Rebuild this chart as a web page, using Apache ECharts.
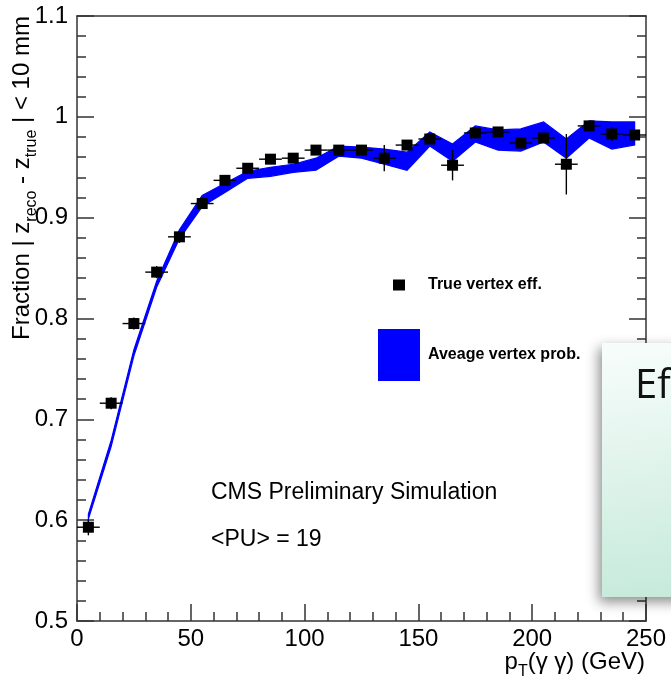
<!DOCTYPE html>
<html>
<head>
<meta charset="utf-8">
<script src="https://cdn.jsdelivr.net/npm/echarts@6/dist/echarts.min.js"></script>
<style>
html,body{margin:0;padding:0;background:#fff;}
#chart{width:671px;height:679px;}
</style>
</head>
<body>
<div id="chart"></div>
<script>
// ---- data ----
const binCenters = [5,15,25,35,45,55,65,75,85,95,105,115,125,135,145,155,165,175,185,195,205,215,225,235,245];
const binHalfWidth = 5;
const effValues = [0.593,0.716,0.795,0.846,0.881,0.914,0.937,0.949,0.958,0.959,0.967,0.967,0.967,0.959,0.972,0.978,0.952,0.984,0.985,0.974,0.979,0.953,0.991,0.983,0.982];
const effErrors = [0.008,0.006,0.006,0.006,0.006,0.005,0.005,0.004,0.004,0.005,0.004,0.004,0.004,0.013,0.005,0.005,0.015,0.004,0.004,0.004,0.004,0.030,0.004,0.007,0.005];
const bandLow  = [0.601,0.673,0.763,0.831,0.879,0.911,0.925,0.939,0.941,0.945,0.947,0.961,0.959,0.953,0.947,0.971,0.956,0.975,0.967,0.966,0.975,0.959,0.979,0.968,0.972];
const bandHigh = [0.606,0.679,0.769,0.837,0.888,0.922,0.934,0.946,0.950,0.953,0.959,0.971,0.970,0.968,0.965,0.985,0.973,0.991,0.987,0.988,0.995,0.978,0.996,0.995,0.995];
const xTicks = [0,50,100,150,200,250];
const yTicks = [0.5,0.6,0.7,0.8,0.9,1.0,1.1];
const seriesNames = ['True vertex eff.', 'Aveage vertex prob.'];

const FONT = "'Liberation Sans', Arial, Helvetica, sans-serif";
const chart = echarts.init(document.getElementById('chart'), null, {renderer:'canvas'});

const effData = binCenters.map((x,i)=>[x, effValues[i]]);
const errData = binCenters.map((x,i)=>[x, effValues[i], effErrors[i]]);
const bandData = binCenters.map((x,i)=>[x, bandLow[i], bandHigh[i]]);

const axisLineStyle = {color:'#333', width:1.5};

function yFmt(v){ return Math.abs(v-1)<1e-9 ? '1' : v.toFixed(1); }

const richSub = {
  n:{fontSize:24, fontFamily:FONT, fill:'#000', color:'#000', lineHeight:24, verticalAlign:'top'},
  s:{fontSize:16, fontFamily:FONT, fill:'#000', color:'#000', lineHeight:30, verticalAlign:'bottom'}
};

const option = {
  animation:false,
  backgroundColor:'#fff',
  grid:{left:77, right:25, top:16, bottom:58, show:false},
  xAxis:[{
    type:'value', min:xTicks[0], max:xTicks[xTicks.length-1], interval:50,
    axisLine:{show:true, onZero:false, lineStyle:axisLineStyle},
    axisTick:{show:true, inside:true, length:17, lineStyle:axisLineStyle},
    minorTick:{show:true, splitNumber:5, length:9, lineStyle:axisLineStyle},
    axisLabel:{fontSize:24, color:'#000', fontFamily:FONT, margin:6},
    splitLine:{show:false}
  },{
    type:'value', position:'top', min:0, max:250,
    axisLine:{show:true, onZero:false, lineStyle:axisLineStyle},
    axisTick:{show:false}, axisLabel:{show:false}, splitLine:{show:false}
  }],
  yAxis:[{
    type:'value', min:yTicks[0], max:yTicks[yTicks.length-1], interval:0.1,
    axisLine:{show:true, onZero:false, lineStyle:axisLineStyle},
    axisTick:{show:true, inside:true, length:17, lineStyle:axisLineStyle},
    minorTick:{show:true, splitNumber:5, length:9, lineStyle:axisLineStyle},
    axisLabel:{fontSize:24, color:'#000', fontFamily:FONT, margin:9, formatter:yFmt},
    splitLine:{show:false}
  },{
    type:'value', position:'right', min:0.5, max:1.1, interval:0.1,
    axisLine:{show:true, onZero:false, lineStyle:axisLineStyle},
    axisTick:{show:true, inside:true, length:17, lineStyle:axisLineStyle},
    minorTick:{show:true, splitNumber:5, length:9, lineStyle:axisLineStyle},
    axisLabel:{show:false}, splitLine:{show:false}
  }],
  legend:[{
    data:[seriesNames[0]], left:393, top:277, orient:'vertical', padding:0,
    icon:'rect', itemWidth:12, itemHeight:11,
    itemStyle:{opacity:1},
    textStyle:{fontSize:16, fontWeight:'bold', color:'#000', fontFamily:FONT, padding:[0,0,0,18]},
    selectedMode:false
  },{
    data:[seriesNames[1]], left:378, top:329, orient:'vertical', padding:0,
    icon:'rect', itemWidth:42, itemHeight:52,
    textStyle:{fontSize:16, fontWeight:'bold', color:'#000', fontFamily:FONT, padding:[6,0,0,3]},
    selectedMode:false
  }],
  series:[
    {
      name:seriesNames[1], type:'custom', data:bandData, z:2,
      itemStyle:{color:'#0000ff'},
      encode:{x:0, y:[1,2]},
      renderItem:function(params, api){
        if(params.dataIndex!==0) return null;
        const pts=[];
        for(let i=0;i<bandData.length;i++) pts.push(api.coord([bandData[i][0], bandData[i][2]]));
        for(let i=bandData.length-1;i>=0;i--) pts.push(api.coord([bandData[i][0], bandData[i][1]]));
        return {type:'polygon', shape:{points:pts}, style:{fill:'#0000ff', stroke:'#0000ff', lineWidth:1.2}};
      }
    },
    {
      name:'errors', type:'custom', data:errData, z:3,
      encode:{x:0, y:1},
      renderItem:function(params, api){
        const x=api.value(0), y=api.value(1), e=api.value(2);
        const l=api.coord([x-binHalfWidth,y]), r=api.coord([x+binHalfWidth,y]);
        const t=api.coord([x,y+e]), b=api.coord([x,y-e]);
        const st={stroke:'#000', lineWidth:1.4};
        return {type:'group', children:[
          {type:'line', shape:{x1:l[0],y1:l[1],x2:r[0],y2:r[1]}, style:st},
          {type:'line', shape:{x1:t[0],y1:t[1],x2:b[0],y2:b[1]}, style:st}
        ]};
      }
    },
    {
      name:seriesNames[0], type:'scatter', data:effData, z:4,
      symbol:'rect', symbolSize:11, itemStyle:{color:'#000', opacity:1}
    }
  ],
  graphic:[
    {
      type:'text', x:10, y:178, rotation:Math.PI/2, z:10,
      style:{
        text:'{n|Fraction | z}{s|reco}{n| - z}{s|true}{n| | < 10 mm}',
        align:'center', verticalAlign:'top', rich:richSub
      }
    },
    {
      type:'text', x:645, y:650, z:10,
      style:{
        text:'{n|p}{s|T}{n|(γ γ) (GeV)}',
        align:'right', verticalAlign:'top', rich:richSub
      }
    },
    {
      type:'text', x:211, y:493, z:10,
      style:{text:'CMS Preliminary Simulation', font:"23px "+FONT, fill:'#000', verticalAlign:'middle'}
    },
    {
      type:'text', x:211, y:540, z:10,
      style:{text:'<PU> = 19', font:"23px "+FONT, fill:'#000', verticalAlign:'middle'}
    },
    {
      type:'rect', x:602, y:343, z:20,
      shape:{width:90, height:254},
      style:{
        fill:new echarts.graphic.LinearGradient(0,0,0.35,1,[{offset:0,color:'#f8fdfb'},{offset:1,color:'#c7eadc'}]),
        shadowBlur:12, shadowColor:'rgba(0,0,0,0.45)', shadowOffsetX:-3, shadowOffsetY:5
      }
    },
    {
      type:'text', x:635, y:387, z:21,
      style:{text:'Ef', font:"40px 'Open Sans', 'Noto Sans', sans-serif", fill:'#111', verticalAlign:'middle'}
    }
  ]
};
chart.setOption(option);
</script>
</body>
</html>
